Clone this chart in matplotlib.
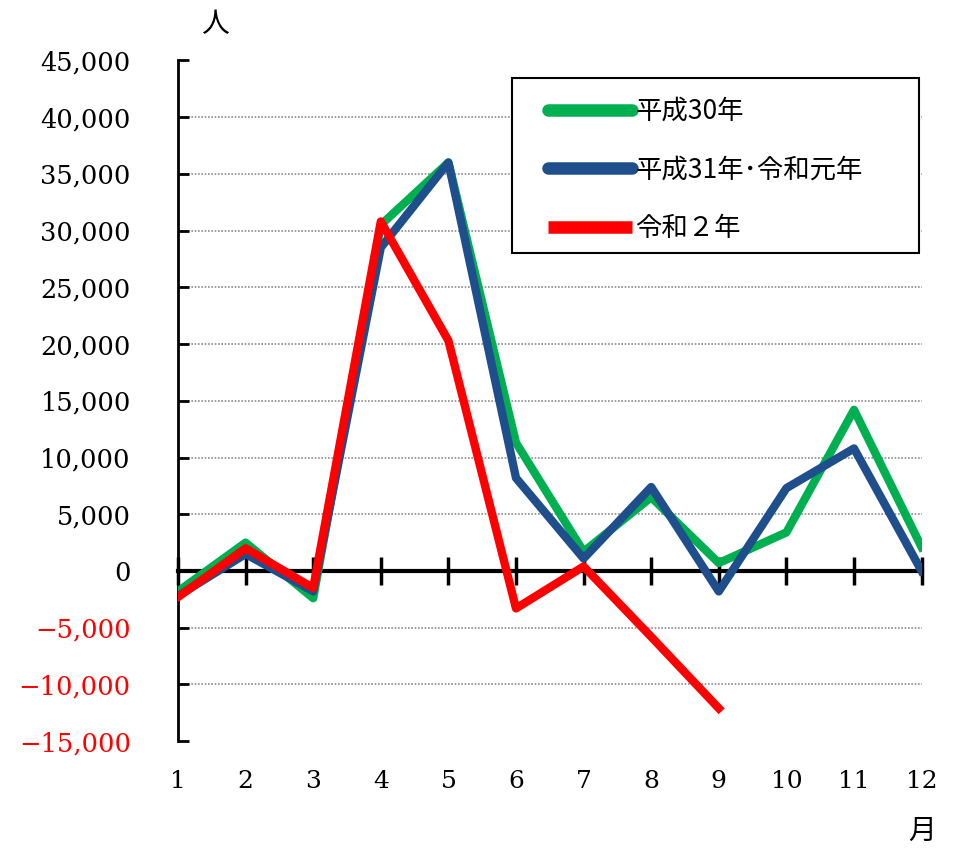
import numpy as np
import matplotlib.pyplot as plt
from matplotlib.patches import Rectangle
from matplotlib.ticker import FuncFormatter

# monthly values (people)
months = list(range(1, 13))
h30 = [-1800, 2500, -2400, 30500, 36000, 11300, 1700, 6500, 700, 3400, 14200, 2100]
h31_r1 = [-2200, 1500, -1800, 28500, 36000, 8200, 1100, 7400, -1800, 7300, 10800, 0]
r2 = [-2300, 2000, -1500, 30800, 20300, -3300, 400, -5800, -12100]

labels = ['平成30年', '平成31年･令和元年', '令和２年']
colors = ['#00B050', '#1F4E8C', '#FF0000']

num_font = 'DejaVu Serif'
cjk_font = ['Noto Sans CJK JP', 'DejaVu Sans']

fig = plt.figure(figsize=(9.57, 8.5), dpi=100)
ax = fig.add_axes([0.186, 0.128, 0.777, 0.801])

ax.plot(months, h30, color=colors[0], lw=6, label=labels[0], zorder=3)
ax.plot(months, h31_r1, color=colors[1], lw=6, label=labels[1], zorder=4)
ax.plot(months[:len(r2)], r2, color=colors[2], lw=6, label=labels[2], zorder=5)

ax.set_xlim(1, 12)
ax.set_ylim(-15000, 45000)
yticks = np.arange(-15000, 45001, 5000)
ax.set_yticks(yticks)
ax.yaxis.set_major_formatter(FuncFormatter(
    lambda v, p: ('\u2212' if v < 0 else '') + '{:,}'.format(int(abs(v)))))
ax.tick_params(axis='y', direction='in', length=8, width=2, pad=34,
               labelsize=18.5)
for t in ax.get_yticklabels():
    t.set_fontfamily(num_font)
for t, v in zip(ax.get_yticklabels(), yticks):
    if v < 0:
        t.set_color('#FF0000')

# dotted grid lines
for v in yticks:
    if v not in (0, 45000, -15000):
        ax.axhline(v, color='#8c8c8c', lw=1.2, ls=(0, (1, 1)), zorder=1)

# spines: left as axis, bottom sits on zero
ax.spines['top'].set_visible(False)
ax.spines['right'].set_visible(False)
ax.spines['left'].set_linewidth(2)
ax.spines['bottom'].set_position(('data', 0))
ax.spines['bottom'].set_linewidth(3)
ax.spines['bottom'].set_zorder(2)
ax.set_xticks(months)
ax.tick_params(axis='x', direction='inout', length=20, width=2.5,
               labelbottom=False)

# month labels at the bottom
sec = ax.secondary_xaxis('bottom')
sec.set_xticks(months)
sec.set_xticklabels([str(m) for m in months], fontfamily=num_font,
                    fontsize=18)
sec.tick_params(length=0, pad=21)
sec.spines['bottom'].set_visible(False)

fig.text(0.225, 0.972, '人', fontsize=20, family=cjk_font,
         ha='center', va='center')
fig.text(0.963, 0.023, '月', fontsize=20, family=cjk_font,
         ha='center', va='center')

# legend box drawn separately so the inner spacing can match
ax.add_patch(Rectangle((0.449, 0.7166), 0.548, 0.257, transform=ax.transAxes,
                       facecolor='white', edgecolor='black', lw=1.5, zorder=6))
leg = ax.legend(loc='upper left', bbox_to_anchor=(0.497, 0.945),
                prop={'family': cjk_font, 'size': 19},
                handlelength=3.2, handletextpad=0.12, labelspacing=1.2,
                borderpad=0, borderaxespad=0, frameon=False)
leg.set_zorder(7)
for line, cap in zip(leg.get_lines(), ['round', 'round', 'butt']):
    line.set_linewidth(9)
    line.set_solid_capstyle(cap)

fig.savefig('out.png', dpi=100)
